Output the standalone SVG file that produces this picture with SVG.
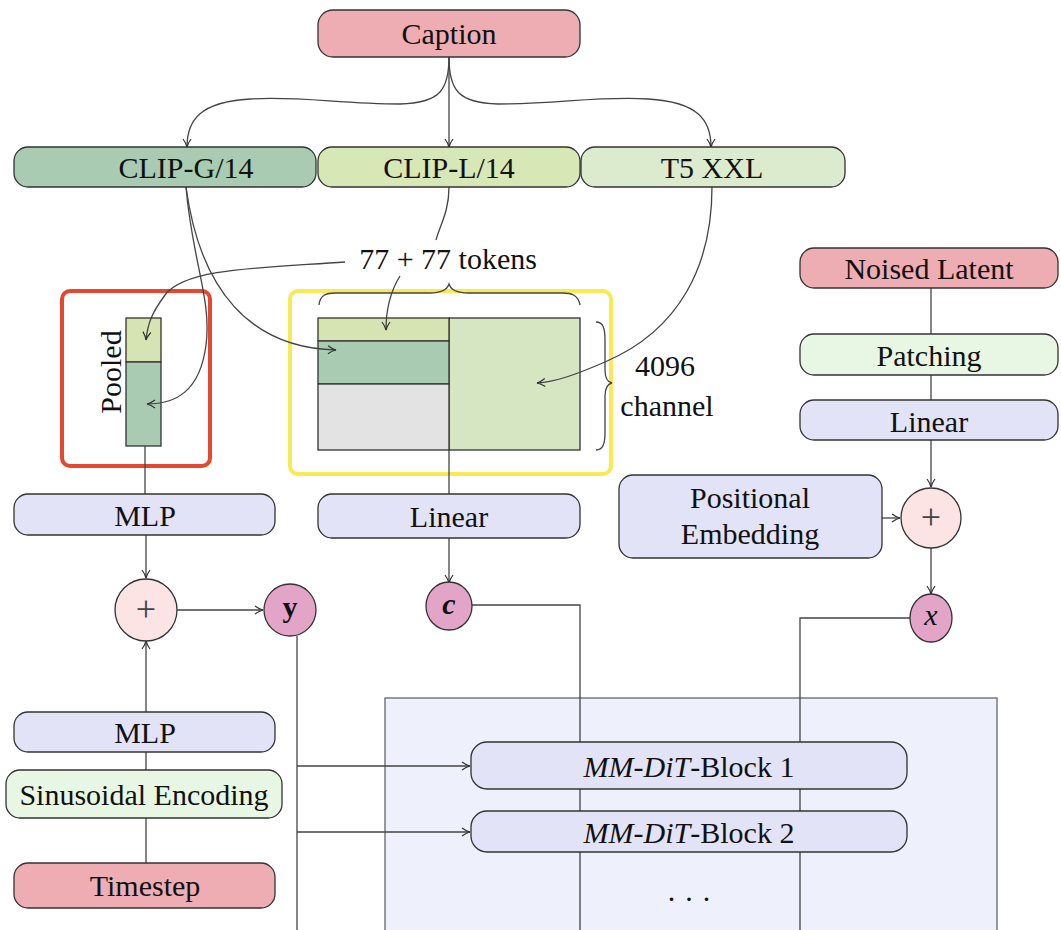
<svg xmlns="http://www.w3.org/2000/svg" width="1061" height="930" viewBox="0 0 1061 930">
<defs>
<style>
.n{stroke:#333;stroke-width:1.3}
.t{font-family:"Liberation Serif","Times New Roman",serif;font-size:30px;fill:#111;text-anchor:middle;dominant-baseline:central}
.p{font-size:36px;fill:#444}
.l{fill:none;stroke:#444;stroke-width:1.3}
.pink{fill:#eeadb3}
.lav{fill:#e2e3f7}
.mint{fill:#e8f7e4}
</style>
<marker id="a" viewBox="0 0 10 10" refX="9" refY="5" markerWidth="10" markerHeight="10" markerUnits="userSpaceOnUse" orient="auto">
<path d="M1,1 Q5,4 9,5 Q5,6 1,9" fill="none" stroke="#333" stroke-width="1.2"/>
</marker>
</defs>
<rect width="1061" height="930" fill="#fff"/>

<g id="panel">
<rect x="385" y="698" width="612" height="240" fill="#eef0fb" stroke="#666" stroke-width="1.3"/>
</g>

<g id="pooled">
<rect x="62" y="291" width="148" height="175" rx="8" fill="none" stroke="#e5472f" stroke-width="4"/>
<rect x="126" y="318" width="35" height="44" fill="#d6e4b4" stroke="#333" stroke-width="1.3"/>
<rect x="126" y="362" width="35" height="84" fill="#a9cbb1" stroke="#333" stroke-width="1.3"/>
<text class="t" x="0" y="0" transform="translate(110,372) rotate(-90)">Pooled</text>
</g>

<g id="embeds">
<rect x="290" y="291" width="321" height="183" rx="8" fill="none" stroke="#f7ea55" stroke-width="4"/>
<rect x="449" y="318" width="131" height="132" fill="#d6e6c2" stroke="#333" stroke-width="1.3"/>
<rect x="318" y="318" width="131" height="23" fill="#d6e4b4" stroke="#333" stroke-width="1.3"/>
<rect x="318" y="341" width="131" height="43" fill="#a9cbb1" stroke="#333" stroke-width="1.3"/>
<rect x="318" y="384" width="131" height="66" fill="#e3e3e3" stroke="#333" stroke-width="1.3"/>
<path class="l" d="M319,305 C320,295 326,293 336,293 L430,293 C442,293 447,290 449,284 C451,290 456,293 468,293 L562,293 C572,293 578,295 580,305"/>
<path class="l" d="M596,322 C603,322 605,328 605,340 L605,370 C605,378 607,382 612,383 C607,384 605,388 605,396 L605,432 C605,444 603,450 596,450"/>
<text class="t" x="665" y="365">4096</text>
<text class="t" x="667" y="405">channel</text>
</g>

<g id="connectors">
<path class="l" d="M449,57 C449,90 440,103 400,104 C340,104 300,96 250,99 C200,102 187,120 187,147" marker-end="url(#a)"/>
<path class="l" d="M449,57 L449,147" marker-end="url(#a)"/>
<path class="l" d="M449,57 C449,90 458,103 498,104 C558,104 598,96 648,99 C698,102 711,120 711,147" marker-end="url(#a)"/>
<path class="l" d="M449,187 C449,212 440,225 436,240"/>
<path class="l" d="M186,187 C192,260 212,300 206,345 C200,392 175,404 147,404" marker-end="url(#a)"/>
<path class="l" d="M186,187 C200,290 250,348 336,350" marker-end="url(#a)"/>
<path class="l" d="M345,262 C260,268 185,268 165,295 C152,313 148,322 146,340" marker-end="url(#a)"/>
<path class="l" d="M400,276 C390,292 386,310 386,330" marker-end="url(#a)"/>
<path class="l" d="M712,187 C712,265 680,330 605,362 C575,375 555,382 537,383" marker-end="url(#a)"/>
<path class="l" d="M145,446 L145,494"/>
<path class="l" d="M146,535 L146,578" marker-end="url(#a)"/>
<path class="l" d="M146,712 L146,641" marker-end="url(#a)"/>
<path class="l" d="M146,752 L146,770 M146,818 L146,863"/>
<path class="l" d="M177,610 L263,610" marker-end="url(#a)"/>
<path class="l" d="M297,636 L297,930"/>
<path class="l" d="M297,766 L470,766" marker-end="url(#a)"/>
<path class="l" d="M297,832 L470,832" marker-end="url(#a)"/>
<path class="l" d="M449,450 L449,494"/>
<path class="l" d="M449,538 L449,583" marker-end="url(#a)"/>
<path class="l" d="M472,605 L580,605 L580,930"/>
<path class="l" d="M931,288 L931,334 M931,375 L931,400"/>
<path class="l" d="M931,440 L931,487" marker-end="url(#a)"/>
<path class="l" d="M882,518 L900,518" marker-end="url(#a)"/>
<path class="l" d="M931,548 L931,594" marker-end="url(#a)"/>
<path class="l" d="M910,618 L800,618 L800,930"/>
</g>

<g id="caption"><rect class="n pink" x="318" y="10" width="262" height="47" rx="15"/><text class="t" x="449" y="33">Caption</text></g>
<g id="clipg"><rect class="n" fill="#a9cbb1" x="14" y="147" width="302" height="40" rx="14"/><text class="t" x="186" y="167">CLIP-G/14</text></g>
<g id="clipl"><rect class="n" fill="#d8e7b6" x="318" y="147" width="262" height="40" rx="14"/><text class="t" x="449" y="167">CLIP-L/14</text></g>
<g id="t5"><rect class="n" fill="#dcebcd" x="581" y="147" width="264" height="40" rx="14"/><text class="t" x="712" y="167">T5 XXL</text></g>

<g id="tokens"><text class="t" x="448" y="258">77 + 77 tokens</text></g>

<g id="mlp1"><rect class="n lav" x="14" y="494" width="261" height="41" rx="14"/><text class="t" x="145" y="515">MLP</text></g>
<g id="linear1"><rect class="n lav" x="318" y="494" width="262" height="44" rx="14"/><text class="t" x="449" y="516">Linear</text></g>
<g id="plus1"><circle class="n" fill="#fbe4e3" cx="146" cy="610" r="31"/><text class="t p" x="146" y="609">+</text></g>
<g id="y"><circle class="n" fill="#e3a5c7" cx="290" cy="610" r="26"/><text class="t" x="290" y="606" style="font-weight:bold">y</text></g>
<g id="c"><ellipse class="n" fill="#e3a5c7" cx="449" cy="606" rx="23" ry="24"/><text class="t" x="449" y="603" style="font-style:italic;font-weight:bold">c</text></g>

<g id="mlp2"><rect class="n lav" x="14" y="712" width="261" height="40" rx="14"/><text class="t" x="145" y="732">MLP</text></g>
<g id="sinus"><rect class="n mint" x="6" y="770" width="276" height="48" rx="14"/><text class="t" x="144" y="794">Sinusoidal Encoding</text></g>
<g id="timestep"><rect class="n pink" x="14" y="863" width="261" height="45" rx="14"/><text class="t" x="145" y="885">Timestep</text></g>

<g id="noised"><rect class="n pink" x="800" y="248" width="258" height="40" rx="14"/><text class="t" x="929" y="268">Noised Latent</text></g>
<g id="patching"><rect class="n mint" x="800" y="334" width="258" height="41" rx="14"/><text class="t" x="929" y="355">Patching</text></g>
<g id="linear2"><rect class="n lav" x="800" y="400" width="258" height="40" rx="14"/><text class="t" x="929" y="421">Linear</text></g>
<g id="posemb"><rect class="n lav" x="619" y="475" width="263" height="83" rx="14"/><text class="t" x="750" y="497">Positional</text><text class="t" x="750" y="533">Embedding</text></g>
<g id="plus2"><circle class="n" fill="#fbe4e3" cx="931" cy="518" r="30"/><text class="t p" x="931" y="517">+</text></g>
<g id="x"><ellipse class="n" fill="#e3a5c7" cx="931" cy="618" rx="21" ry="24"/><text class="t" x="931" y="614" style="font-style:italic">x</text></g>

<g id="block1"><rect class="n lav" x="471" y="742" width="436" height="47" rx="16"/><text class="t" x="689" y="766"><tspan font-style="italic">MM-DiT</tspan>-Block 1</text></g>
<g id="block2"><rect class="n lav" x="471" y="811" width="436" height="41" rx="16"/><text class="t" x="689" y="832"><tspan font-style="italic">MM-DiT</tspan>-Block 2</text></g>
<g id="dots"><text class="t" x="689" y="898">· · ·</text></g>
</svg>
